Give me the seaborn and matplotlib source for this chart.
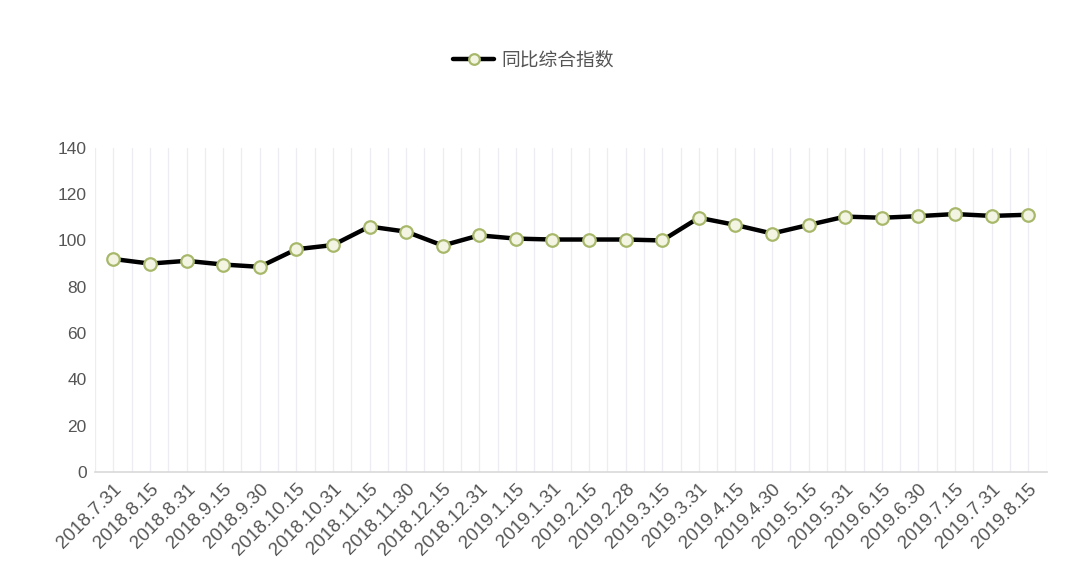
import numpy as np
import pandas as pd
import matplotlib
matplotlib.use('Agg')
import matplotlib.pyplot as plt
import seaborn as sns

# 日期标签与同比综合指数
dates = ['2018.7.31', '2018.8.15', '2018.8.31', '2018.9.15', '2018.9.30',
         '2018.10.15', '2018.10.31', '2018.11.15', '2018.11.30', '2018.12.15',
         '2018.12.31', '2019.1.15', '2019.1.31', '2019.2.15', '2019.2.28',
         '2019.3.15', '2019.3.31', '2019.4.15', '2019.4.30', '2019.5.15',
         '2019.5.31', '2019.6.15', '2019.6.30', '2019.7.15', '2019.7.31',
         '2019.8.15']
index_values = [92.0, 90.0, 91.2, 89.6, 88.6, 96.2, 98.0, 106.0, 103.8, 97.8,
                102.2, 100.8, 100.4, 100.4, 100.4, 100.0, 109.8, 106.7, 103.0, 106.7,
                110.3, 109.8, 110.5, 111.4, 110.6, 111.1]
yticks = [0, 20, 40, 60, 80, 100, 120, 140]
series_name = '同比综合指数'

df = pd.DataFrame({'date': dates, 'value': index_values})
df['pos'] = np.arange(len(df))

sns.set_style('white')
plt.rcParams['font.family'] = ['Liberation Sans', 'Noto Sans CJK SC', 'DejaVu Sans']

fig = plt.figure(figsize=(10.8, 5.82), dpi=100)
ax = fig.add_axes([0.088, 0.189, 0.881, 0.557])

# 竖向网格线（类别中心与边界）
for gx in np.arange(-0.5, len(dates), 0.5):
    ax.axvline(gx, color='#ececf2', lw=0.9, zorder=0)

sns.lineplot(data=df, x='pos', y='value', ax=ax, color='black', lw=3.2,
             marker='o', markersize=9, markerfacecolor='#f3f5e2',
             markeredgecolor='#a7b86a', markeredgewidth=1.6,
             label=series_name, legend=False, zorder=3)

ax.set_xlim(-0.5, len(dates) - 0.5)
ax.set_ylim(0, 140)
ax.set_yticks(yticks)
ax.set_yticklabels([str(t) for t in yticks], fontsize=12.5, color='#555555')
ax.set_xticks(df['pos'])
ax.set_xticklabels(dates, rotation=45, ha='right', rotation_mode='anchor',
                   fontsize=13.5, color='#555555')
ax.tick_params(axis='both', length=0, pad=6)
ax.set_xlabel('')
ax.set_ylabel('')
for side in ['top', 'right', 'left']:
    ax.spines[side].set_visible(False)
ax.spines['bottom'].set_color('#d9d9d9')
ax.spines['bottom'].set_linewidth(1.2)

handles, labels = ax.get_legend_handles_labels()
leg = fig.legend(handles, labels, loc='center', bbox_to_anchor=(0.494, 0.897),
                 frameon=False, fontsize=13.5, handlelength=2.2, handletextpad=0.4,
                 markerscale=0.85)
for t in leg.get_texts():
    t.set_color('#555555')
    t.set_family(['Noto Sans CJK SC', 'DejaVu Sans'])

fig.savefig('out.png', dpi=100)
